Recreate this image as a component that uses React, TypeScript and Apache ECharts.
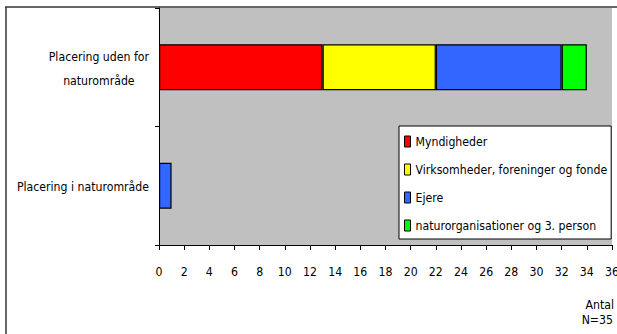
import React, { useEffect, useRef } from "react";
import * as echarts from "echarts";

const categories = ["Placering uden for\nnaturområde", "Placering i naturområde"];
const seriesNames = [
  "Myndigheder",
  "Virksomheder, foreninger og fonde",
  "Ejere",
  "naturorganisationer og 3. person",
];
const myndigheder = [13, 0];
const virksomheder = [9, 0];
const ejere = [10, 1];
const naturorg = [2, 0];
const seriesColors = ["#FF0000", "#FFFF00", "#3366FF", "#00FF00"];
const xTicks = { min: 0, max: 36, interval: 2 };
const axisName = "Antal";
const noteText = "N=35";

const FONT = "'DejaVu Sans Condensed', 'Liberation Sans Narrow', sans-serif";
const FS = 12.2;

export default function App() {
  const ref = useRef<HTMLDivElement>(null);
  useEffect(() => {
    if (!ref.current) return;
    const chart = echarts.init(ref.current, undefined, { renderer: "svg" });
    const values = [myndigheder, virksomheder, ejere, naturorg];
    chart.setOption({
      animation: false,
      textStyle: { fontFamily: FONT },
      grid: {
        left: 159,
        right: 5,
        top: 8,
        bottom: 89,
        show: true,
        backgroundColor: "#C0C0C0",
        borderWidth: 0,
        containLabel: false,
        outerBoundsMode: "none",
      },
      legend: {
        orient: "vertical",
        left: 399,
        top: 126,
        backgroundColor: "#FFFFFF",
        borderColor: "#000000",
        borderWidth: 1,
        borderRadius: 0,
        padding: [7, 4, 5, 5],
        itemWidth: 6,
        itemHeight: 11,
        itemGap: 11,
        icon: "rect",
        itemStyle: { borderColor: "#000000", borderWidth: 1 },
        textStyle: { fontFamily: FONT, fontSize: FS, color: "#000", lineHeight: 17 },
        data: seriesNames,
      },
      xAxis: {
        type: "value",
        min: xTicks.min,
        max: xTicks.max,
        interval: xTicks.interval,
        axisLine: { show: true, lineStyle: { color: "#000", width: 1 } },
        axisTick: { show: true, length: 5, lineStyle: { color: "#000" } },
        axisLabel: { fontFamily: FONT, fontSize: FS, color: "#000", margin: 21 },
        splitLine: { show: false },
      },
      yAxis: {
        type: "category",
        inverse: true,
        data: categories,
        axisLine: { show: true, lineStyle: { color: "#000", width: 1 } },
        axisTick: { show: true, length: 4, lineStyle: { color: "#000" } },
        axisLabel: {
          fontFamily: FONT,
          fontSize: FS,
          color: "#000",
          margin: 10,
          lineHeight: 24,
          formatter: (v: string) =>
            v
              .split("\n")
              .map((l) => "{c|" + l + "}")
              .join("\n"),
          rich: {
            c: { align: "center", fontFamily: FONT, fontSize: FS, lineHeight: 24, color: "#000", padding: [3, 0, 0, 0] },
          },
        },
      },
      series: seriesNames.map((name, i) => ({
        name,
        type: "bar",
        stack: "total",
        barWidth: 46,
        itemStyle: { color: seriesColors[i], borderColor: "#000", borderWidth: 1.2 },
        data: values[i].map((v) => (v === 0 ? "-" : v)),
      })),
      graphic: [
        {
          type: "line",
          shape: { x1: 5, y1: 7, x2: 617, y2: 7 },
          style: { stroke: "#333", lineWidth: 1.5 },
        },
        {
          type: "line",
          shape: { x1: 6, y1: 7, x2: 6, y2: 334 },
          style: { stroke: "#333", lineWidth: 1.5 },
        },
        {
          type: "text",
          x: 614,
          y: 305,
          style: {
            text: axisName,
            fontFamily: FONT,
            fontSize: FS,
            fill: "#000",
            align: "right",
            verticalAlign: "middle",
          },
        },
        {
          type: "text",
          x: 613,
          y: 320,
          style: {
            text: noteText,
            fontFamily: FONT,
            fontSize: FS,
            fill: "#000",
            align: "right",
            verticalAlign: "middle",
          },
        },
      ],
    });
    return () => chart.dispose();
  }, []);
  return (
    <div
      ref={ref}
      style={{ position: "absolute", left: 0, top: 0, width: 617, height: 334 }}
    />
  );
}
